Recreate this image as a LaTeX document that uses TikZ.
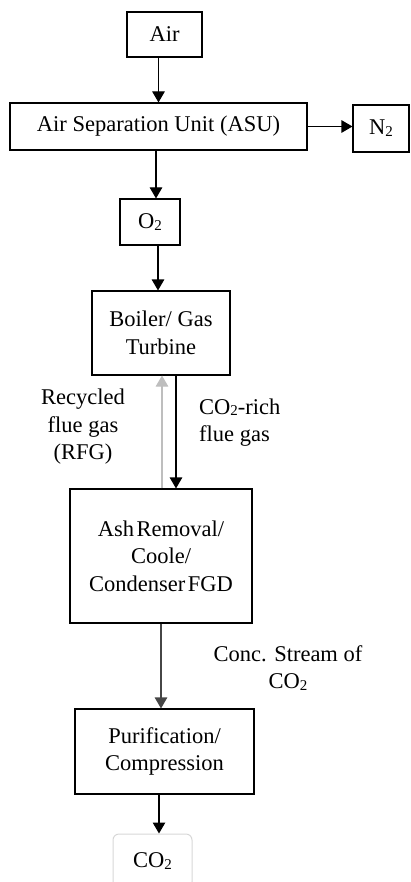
\documentclass[tikz,border=0pt]{standalone}
\usepackage{fontspec}
\setmainfont{Liberation Serif}
\usetikzlibrary{arrows.meta}
\newcommand\subtwo{\raisebox{-0.08em}{\fontsize{15}{15}\selectfont 2}}
\begin{document}
\begin{tikzpicture}[x=1pt,y=-1pt,
  every node/.style={font=\fontsize{22.5}{27.5}\selectfont, align=center, inner sep=0pt},
  box/.style={draw, line width=1.1pt},
  arr/.style={line width=1.1pt, -{Triangle[width=12.5pt,length=11pt]}},
  garr/.style={line width=1.1pt, draw={rgb,255:red,190;green,190;blue,190},
    -{Triangle[width=12.5pt,length=11pt]}},
  lbl/.style={}]
\useasboundingbox (0,0) rectangle (410,882);
\node[box, minimum width=75pt, minimum height=45pt] (air) at (164.5,34.5) {Air};
\node[box, minimum width=297pt, minimum height=47pt] (asu) at (158.5,126.5) {Air Separation Unit (ASU)};
\node[box, minimum width=56pt, minimum height=47pt] (n2) at (381,128.5) {N\subtwo};
\node[box, minimum width=60pt, minimum height=46pt] (o2) at (150,222) {O\subtwo};
\node[box, minimum width=138pt, minimum height=84pt] (boiler) at (161,333) {Boiler/ Gas\\Turbine};
\node[box, minimum width=182pt, minimum height=134pt] (ash) at (161,556) {Ash\hspace{0.12em}Removal/\\Coole/\\Condenser\hspace{0.12em}FGD};
\node[box, minimum width=179pt, minimum height=85pt] (pur) at (164.5,751.5) {Purification/\\Compression};
\node[draw={rgb,255:red,215;green,215;blue,215}, line width=1pt, rounded corners=6pt,
  minimum width=79pt, minimum height=54pt] (co2) at (152.5,861) {CO\subtwo};
\node[lbl] (rfg) at (83,427) {Recycled\\flue gas\\(RFG)};
\node[lbl, align=left, anchor=west] (rich) at (199,422.5) {CO\subtwo-rich\\flue gas};
\node[lbl] (conc) at (288,668) {Conc. Stream of\\CO\subtwo};
\draw[arr] (air.south -| asu.north) -- (asu.north);
\draw[arr] (asu.east) -- (asu.east -| n2.west);
\draw[arr] ([xshift=6pt]o2.north |- asu.south) -- ([xshift=6pt]o2.north);
\draw[arr] ([xshift=8pt]o2.south) -- ([xshift=8pt]o2.south |- boiler.north);
\draw[arr] ([xshift=15pt]boiler.south) -- ([xshift=15pt]boiler.south |- ash.north);
\draw[garr] ([xshift=1pt]ash.north) -- ([xshift=1pt]ash.north |- boiler.south);
\draw[arr, draw={rgb,255:red,70;green,70;blue,70}] (ash.south) -- (ash.south |- pur.north);
\draw[arr] ([xshift=-5.5pt]pur.south) -- ([xshift=-5.5pt]pur.south |- co2.north);
\end{tikzpicture}
\end{document}
